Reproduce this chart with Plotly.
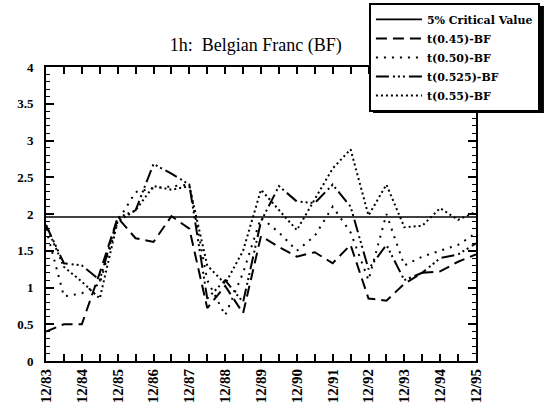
import plotly.graph_objects as go

periods = ["12/83", "6/84", "12/84", "6/85", "12/85", "6/86", "12/86", "6/87", "12/87",
           "6/88", "12/88", "6/89", "12/89", "6/90", "12/90", "6/91", "12/91", "6/92",
           "12/92", "6/93", "12/93", "6/94", "12/94", "6/95", "12/95"]
tick_labels = [p if p.startswith("12/") else "" for p in periods]

critical_value = 1.96
t045 = [0.40, 0.50, 0.50, 1.20, 1.95, 1.67, 1.62, 1.97, 1.80, 0.72, 1.02, 0.65, 1.70,
        1.55, 1.42, 1.48, 1.33, 1.58, 0.85, 0.82, 1.05, 1.20, 1.22, 1.35, 1.45]
t050 = [1.80, 0.88, 0.92, 1.05, 1.90, 2.30, 2.35, 2.38, 2.40, 1.10, 0.62, 1.20, 1.95,
        1.75, 1.50, 1.70, 2.10, 1.75, 1.10, 2.00, 1.30, 1.42, 1.50, 1.58, 1.74]
t0525 = [1.85, 1.33, 1.30, 1.10, 1.95, 2.05, 2.68, 2.55, 2.40, 0.85, 1.10, 0.80, 1.90,
         2.38, 2.17, 2.15, 2.40, 2.10, 1.25, 1.58, 1.10, 1.20, 1.40, 1.45, 1.60]
t055 = [1.85, 1.28, 1.08, 0.85, 1.90, 2.05, 2.38, 2.33, 2.38, 1.30, 1.05, 1.50, 2.33,
        2.05, 1.78, 2.20, 2.62, 2.88, 1.98, 2.40, 1.82, 1.84, 2.08, 1.92, 2.03]

serif = "Liberation Serif"
fig = go.Figure()
fig.add_trace(go.Scatter(x=periods, y=[critical_value] * len(periods), mode="lines",
                         name="5% Critical Value", line=dict(color="black", width=1.6)))
fig.add_trace(go.Scatter(x=periods, y=t045, mode="lines", name="t(0.45)-BF",
                         line=dict(color="black", width=2, dash="11px,6px")))
fig.add_trace(go.Scatter(x=periods, y=t050, mode="lines", name="t(0.50)-BF",
                         line=dict(color="black", width=2, dash="2px,6px")))
fig.add_trace(go.Scatter(x=periods, y=t0525, mode="lines", name="t(0.525)-BF",
                         line=dict(color="black", width=2,
                                   dash="13px,4px,2px,3px,2px,3px,2px,4px")))
fig.add_trace(go.Scatter(x=periods, y=t055, mode="lines", name="t(0.55)-BF",
                         line=dict(color="black", width=2, dash="2px,3px")))

# drop shadow behind the legend box (thick right/bottom border)
fig.add_shape(type="rect", xref="paper", yref="paper",
              x0=0.7605, x1=1.158, y0=0.8435, y1=1.2075,
              fillcolor="black", line=dict(width=0), layer="above")

fig.update_layout(
    width=551, height=418,
    margin=dict(l=46, r=75, t=67, b=57, autoexpand=False),
    paper_bgcolor="white", plot_bgcolor="white",
    font=dict(family=serif, color="black"),
    title=dict(text="1h:\u00a0 Belgian Franc (BF)", x=0.488, xref="paper", xanchor="center",
               y=0.893, yref="container", yanchor="middle",
               font=dict(family=serif, size=18, color="black")),
    showlegend=True,
    legend=dict(x=0.751, y=1.218, xanchor="left", yanchor="top",
                bgcolor="white", bordercolor="black", borderwidth=2,
                font=dict(family="DejaVu Serif", size=11, color="black", weight="bold"),
                tracegroupgap=0, itemwidth=46),
)
fig.update_xaxes(
    type="category", range=[0, len(periods) - 1], automargin=False,
    tickmode="array", tickvals=periods, ticktext=tick_labels, tickangle=-90,
    ticks="inside", ticklen=7, tickwidth=1.5, tickcolor="black",
    showline=True, linecolor="black", linewidth=2, mirror="allticks",
    showgrid=False, zeroline=False,
    tickfont=dict(family=serif, size=15, color="black", weight="bold"),
)
fig.update_yaxes(
    range=[0, 4], dtick=0.5, tick0=0, automargin=False,
    ticks="inside", ticklen=8, tickwidth=1.5, tickcolor="black",
    ticklabelstandoff=8,
    minor=dict(dtick=0.1, ticks="inside", ticklen=4, tickwidth=1, tickcolor="black", showgrid=False),
    showline=True, linecolor="black", linewidth=2, mirror="allticks",
    showgrid=False, zeroline=False,
    tickfont=dict(family=serif, size=13, color="black", weight="bold"),
)
fig.write_html("out.html", config={"displayModeBar": False},
               post_script="document.body.style.margin='0';")
